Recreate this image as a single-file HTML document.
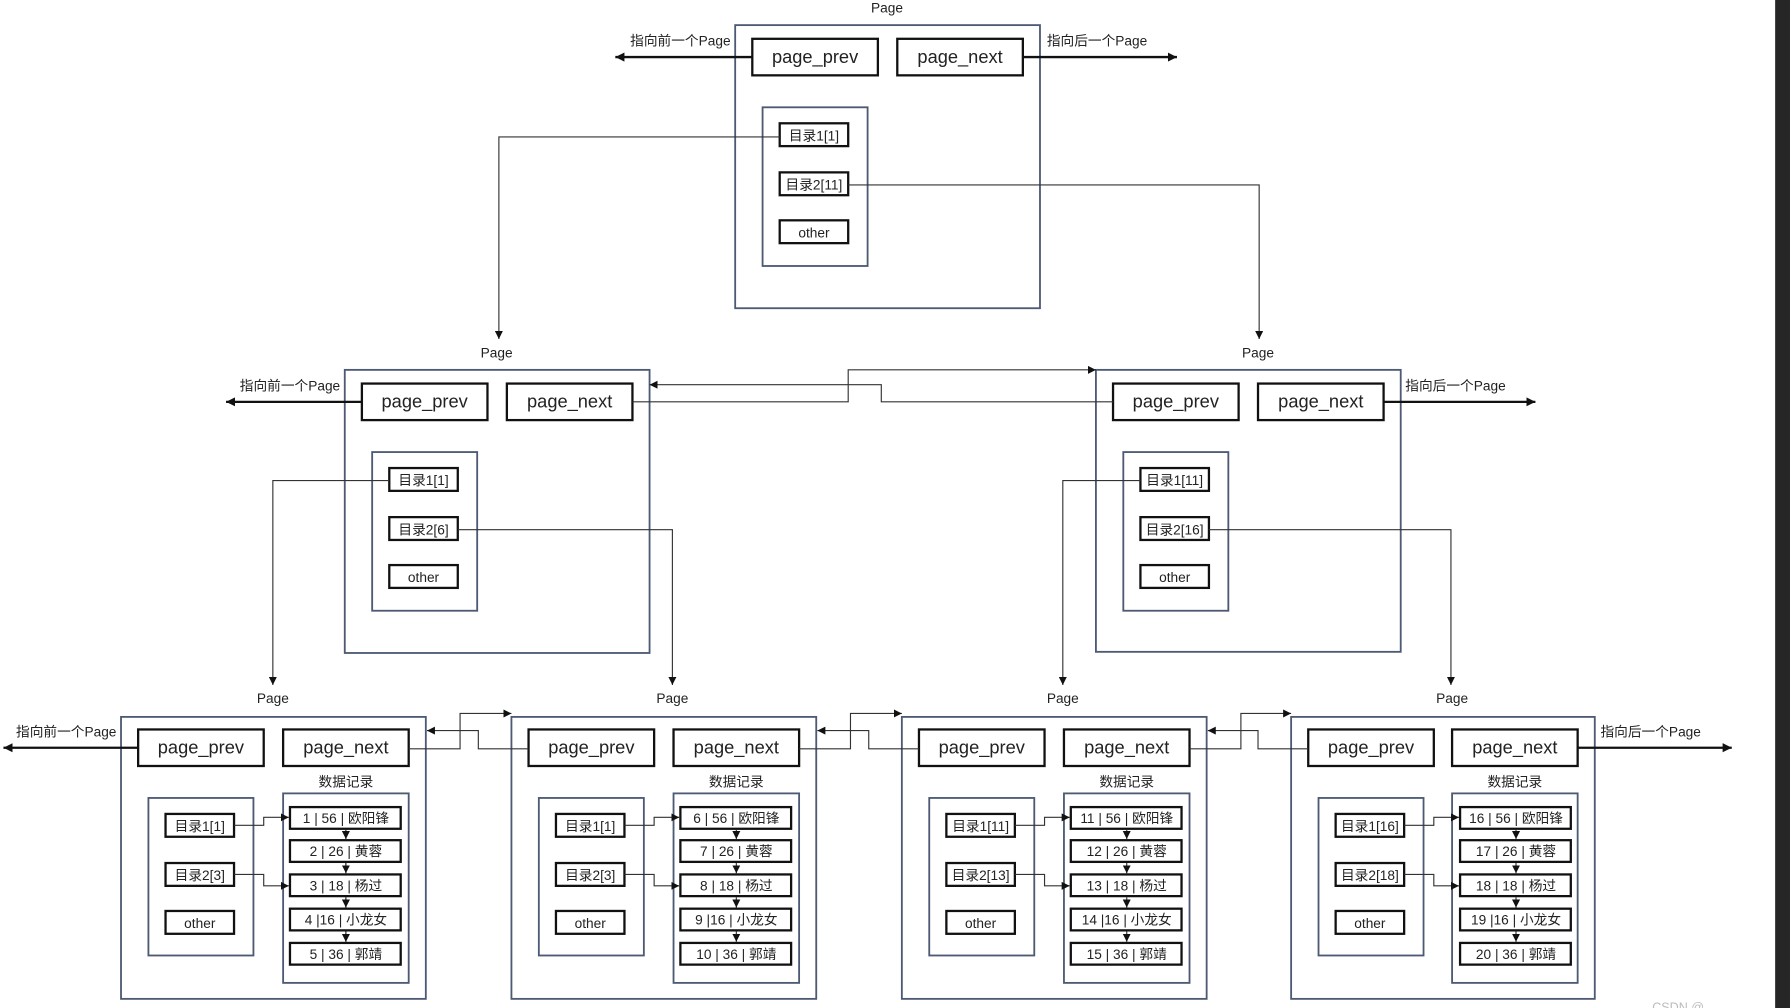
<!DOCTYPE html>
<html><head><meta charset="utf-8"><style>
html,body{margin:0;padding:0;background:#fff;}
svg{display:block}
text{font-family:"Liberation Sans","Noto Sans CJK SC",sans-serif;fill:#222;text-anchor:middle}
.pg{fill:none;stroke:#4d5a74;stroke-width:1.6}
.bx{fill:#fff;stroke:#111;stroke-width:2}
.c{fill:none;stroke:#333;stroke-width:1}
.o{fill:none;stroke:#111;stroke-width:2}
.lb{font-size:12px}
.big{font-size:16px}
.sm{font-size:12px}
</style></head><body>
<svg width="1790" height="1008" viewBox="0 0 1568 883" xmlns="http://www.w3.org/2000/svg">
<defs>
<marker id="a" viewBox="0 0 10 10" refX="10" refY="5" markerWidth="7" markerHeight="7" markerUnits="userSpaceOnUse" orient="auto"><path d="M0 0L10 5L0 10z" fill="#111"/></marker>
<marker id="b" viewBox="0 0 10 10" refX="10" refY="5" markerWidth="8" markerHeight="8" markerUnits="userSpaceOnUse" orient="auto"><path d="M0 0L10 5L0 10z" fill="#111"/></marker>
</defs>
<rect x="1555" y="0" width="13" height="883" fill="#262626"/>

<!-- TOP PAGE -->
<text class="lb" x="777" y="11">Page</text>
<rect class="pg" x="644" y="22" width="267" height="248"/>
<rect class="bx" x="659" y="34" width="110" height="32"/><text class="big" x="714" y="55">page_prev</text>
<rect class="bx" x="786" y="34" width="110" height="32"/><text class="big" x="841" y="55">page_next</text>
<rect class="pg" x="668" y="94" width="92" height="139"/>
<rect class="bx" x="683" y="108" width="60" height="20"/><text class="sm" x="713" y="123">目录1[1]</text>
<rect class="bx" x="683" y="151" width="60" height="20"/><text class="sm" x="713" y="166">目录2[11]</text>
<rect class="bx" x="683" y="193" width="60" height="20"/><text class="sm" x="713" y="208">other</text>
<path class="o" d="M659 50H539" marker-end="url(#b)"/><text class="lb" x="596" y="40">指向前一个Page</text>
<path class="o" d="M896 50H1031" marker-end="url(#b)"/><text class="lb" x="961" y="40">指向后一个Page</text>
<path class="c" d="M683 120H437V297" marker-end="url(#a)"/>
<path class="c" d="M743 162H1103V297" marker-end="url(#a)"/>

<!-- MIDDLE LEFT -->
<text class="lb" x="435" y="313">Page</text>
<rect class="pg" x="302" y="324" width="267" height="248"/>
<rect class="bx" x="317" y="336" width="110" height="32"/><text class="big" x="372" y="357">page_prev</text>
<rect class="bx" x="444" y="336" width="110" height="32"/><text class="big" x="499" y="357">page_next</text>
<rect class="pg" x="326" y="396" width="92" height="139"/>
<rect class="bx" x="341" y="410" width="60" height="20"/><text class="sm" x="371" y="425">目录1[1]</text>
<rect class="bx" x="341" y="453" width="60" height="20"/><text class="sm" x="371" y="468">目录2[6]</text>
<rect class="bx" x="341" y="495" width="60" height="20"/><text class="sm" x="371" y="510">other</text>
<path class="o" d="M317 352H198" marker-end="url(#b)"/><text class="lb" x="254" y="342">指向前一个Page</text>
<path class="c" d="M341 421H239V600" marker-end="url(#a)"/>
<path class="c" d="M401 464H589V600" marker-end="url(#a)"/>

<!-- MIDDLE RIGHT -->
<text class="lb" x="1102" y="313">Page</text>
<rect class="pg" x="960" y="324" width="267" height="247"/>
<rect class="bx" x="975" y="336" width="110" height="32"/><text class="big" x="1030" y="357">page_prev</text>
<rect class="bx" x="1102" y="336" width="110" height="32"/><text class="big" x="1157" y="357">page_next</text>
<rect class="pg" x="984" y="396" width="92" height="139"/>
<rect class="bx" x="999" y="410" width="60" height="20"/><text class="sm" x="1029" y="425">目录1[11]</text>
<rect class="bx" x="999" y="453" width="60" height="20"/><text class="sm" x="1029" y="468">目录2[16]</text>
<rect class="bx" x="999" y="495" width="60" height="20"/><text class="sm" x="1029" y="510">other</text>
<path class="o" d="M1212 352H1345" marker-end="url(#b)"/><text class="lb" x="1275" y="342">指向后一个Page</text>
<path class="c" d="M999 421H931V600" marker-end="url(#a)"/>
<path class="c" d="M1059 464H1271V600" marker-end="url(#a)"/>
<path class="c" d="M554 352H743V324H960" marker-end="url(#a)"/>
<path class="c" d="M975 352H772V337H569" marker-end="url(#a)"/>

<!-- BOTTOM PAGE 1 -->
<g transform="translate(106,0)">
<text class="lb" x="133" y="616">Page</text>
<rect class="pg" x="0" y="628" width="267" height="247"/>
<rect class="bx" x="15" y="639" width="110" height="32"/><text class="big" x="70" y="660">page_prev</text>
<rect class="bx" x="142" y="639" width="110" height="32"/><text class="big" x="197" y="660">page_next</text>
<text class="sm" x="197" y="689">数据记录</text>
<rect class="pg" x="142" y="695" width="110" height="166"/>
<rect class="pg" x="24" y="699" width="92" height="138"/>
<rect class="bx" x="39" y="713" width="60" height="20"/><text class="sm" x="69" y="728">目录1[1]</text>
<rect class="bx" x="39" y="756" width="60" height="20"/><text class="sm" x="69" y="771">目录2[3]</text>
<rect class="bx" x="39" y="798" width="60" height="20"/><text class="sm" x="69" y="813">other</text>
<rect class="bx" x="148" y="707" width="97" height="19"/><text class="sm" x="197" y="721">1 | 56 | 欧阳锋</text>
<rect class="bx" x="148" y="736" width="97" height="19"/><text class="sm" x="197" y="750">2 | 26 | 黄蓉</text>
<rect class="bx" x="148" y="766" width="97" height="19"/><text class="sm" x="197" y="780">3 | 18 | 杨过</text>
<rect class="bx" x="148" y="796" width="97" height="19"/><text class="sm" x="197" y="810">4 |16 | 小龙女</text>
<rect class="bx" x="148" y="826" width="97" height="19"/><text class="sm" x="197" y="840">5 | 36 | 郭靖</text>
<path class="c" d="M197 727V735M197 756V765M197 786V795M197 816V825" marker-end="url(#a)"/>
<path class="c" d="M197 727V735" marker-end="url(#a)"/><path class="c" d="M197 756V765" marker-end="url(#a)"/><path class="c" d="M197 786V795" marker-end="url(#a)"/><path class="c" d="M197 816V825" marker-end="url(#a)"/>
<path class="c" d="M99 723H125V716H147" marker-end="url(#a)"/>
<path class="c" d="M99 766H125V776H147" marker-end="url(#a)"/>
</g>
<path class="o" d="M121 655H3" marker-end="url(#b)"/><text class="lb" x="58" y="645">指向前一个Page</text>

<!-- BOTTOM PAGE 2 -->
<g transform="translate(448,0)">
<text class="lb" x="141" y="616">Page</text>
<rect class="pg" x="0" y="628" width="267" height="247"/>
<rect class="bx" x="15" y="639" width="110" height="32"/><text class="big" x="70" y="660">page_prev</text>
<rect class="bx" x="142" y="639" width="110" height="32"/><text class="big" x="197" y="660">page_next</text>
<text class="sm" x="197" y="689">数据记录</text>
<rect class="pg" x="142" y="695" width="110" height="166"/>
<rect class="pg" x="24" y="699" width="92" height="138"/>
<rect class="bx" x="39" y="713" width="60" height="20"/><text class="sm" x="69" y="728">目录1[1]</text>
<rect class="bx" x="39" y="756" width="60" height="20"/><text class="sm" x="69" y="771">目录2[3]</text>
<rect class="bx" x="39" y="798" width="60" height="20"/><text class="sm" x="69" y="813">other</text>
<rect class="bx" x="148" y="707" width="97" height="19"/><text class="sm" x="197" y="721">6 | 56 | 欧阳锋</text>
<rect class="bx" x="148" y="736" width="97" height="19"/><text class="sm" x="197" y="750">7 | 26 | 黄蓉</text>
<rect class="bx" x="148" y="766" width="97" height="19"/><text class="sm" x="197" y="780">8 | 18 | 杨过</text>
<rect class="bx" x="148" y="796" width="97" height="19"/><text class="sm" x="197" y="810">9 |16 | 小龙女</text>
<rect class="bx" x="148" y="826" width="97" height="19"/><text class="sm" x="197" y="840">10 | 36 | 郭靖</text>
<path class="c" d="M197 727V735" marker-end="url(#a)"/><path class="c" d="M197 756V765" marker-end="url(#a)"/><path class="c" d="M197 786V795" marker-end="url(#a)"/><path class="c" d="M197 816V825" marker-end="url(#a)"/>
<path class="c" d="M99 723H125V716H147" marker-end="url(#a)"/>
<path class="c" d="M99 766H125V776H147" marker-end="url(#a)"/>
</g>

<!-- BOTTOM PAGE 3 -->
<g transform="translate(790,0)">
<text class="lb" x="141" y="616">Page</text>
<rect class="pg" x="0" y="628" width="267" height="247"/>
<rect class="bx" x="15" y="639" width="110" height="32"/><text class="big" x="70" y="660">page_prev</text>
<rect class="bx" x="142" y="639" width="110" height="32"/><text class="big" x="197" y="660">page_next</text>
<text class="sm" x="197" y="689">数据记录</text>
<rect class="pg" x="142" y="695" width="110" height="166"/>
<rect class="pg" x="24" y="699" width="92" height="138"/>
<rect class="bx" x="39" y="713" width="60" height="20"/><text class="sm" x="69" y="728">目录1[11]</text>
<rect class="bx" x="39" y="756" width="60" height="20"/><text class="sm" x="69" y="771">目录2[13]</text>
<rect class="bx" x="39" y="798" width="60" height="20"/><text class="sm" x="69" y="813">other</text>
<rect class="bx" x="148" y="707" width="97" height="19"/><text class="sm" x="197" y="721">11 | 56 | 欧阳锋</text>
<rect class="bx" x="148" y="736" width="97" height="19"/><text class="sm" x="197" y="750">12 | 26 | 黄蓉</text>
<rect class="bx" x="148" y="766" width="97" height="19"/><text class="sm" x="197" y="780">13 | 18 | 杨过</text>
<rect class="bx" x="148" y="796" width="97" height="19"/><text class="sm" x="197" y="810">14 |16 | 小龙女</text>
<rect class="bx" x="148" y="826" width="97" height="19"/><text class="sm" x="197" y="840">15 | 36 | 郭靖</text>
<path class="c" d="M197 727V735" marker-end="url(#a)"/><path class="c" d="M197 756V765" marker-end="url(#a)"/><path class="c" d="M197 786V795" marker-end="url(#a)"/><path class="c" d="M197 816V825" marker-end="url(#a)"/>
<path class="c" d="M99 723H125V716H147" marker-end="url(#a)"/>
<path class="c" d="M99 766H125V776H147" marker-end="url(#a)"/>
</g>

<!-- BOTTOM PAGE 4 -->
<g transform="translate(1131,0)">
<text class="lb" x="141" y="616">Page</text>
<rect class="pg" x="0" y="628" width="266" height="247"/>
<rect class="bx" x="15" y="639" width="110" height="32"/><text class="big" x="70" y="660">page_prev</text>
<rect class="bx" x="141" y="639" width="110" height="32"/><text class="big" x="196" y="660">page_next</text>
<text class="sm" x="196" y="689">数据记录</text>
<rect class="pg" x="141" y="695" width="110" height="166"/>
<rect class="pg" x="24" y="699" width="92" height="138"/>
<rect class="bx" x="39" y="713" width="60" height="20"/><text class="sm" x="69" y="728">目录1[16]</text>
<rect class="bx" x="39" y="756" width="60" height="20"/><text class="sm" x="69" y="771">目录2[18]</text>
<rect class="bx" x="39" y="798" width="60" height="20"/><text class="sm" x="69" y="813">other</text>
<rect class="bx" x="148" y="707" width="97" height="19"/><text class="sm" x="197" y="721">16 | 56 | 欧阳锋</text>
<rect class="bx" x="148" y="736" width="97" height="19"/><text class="sm" x="197" y="750">17 | 26 | 黄蓉</text>
<rect class="bx" x="148" y="766" width="97" height="19"/><text class="sm" x="197" y="780">18 | 18 | 杨过</text>
<rect class="bx" x="148" y="796" width="97" height="19"/><text class="sm" x="197" y="810">19 |16 | 小龙女</text>
<rect class="bx" x="148" y="826" width="97" height="19"/><text class="sm" x="197" y="840">20 | 36 | 郭靖</text>
<path class="c" d="M197 727V735" marker-end="url(#a)"/><path class="c" d="M197 756V765" marker-end="url(#a)"/><path class="c" d="M197 786V795" marker-end="url(#a)"/><path class="c" d="M197 816V825" marker-end="url(#a)"/>
<path class="c" d="M99 723H125V716H147" marker-end="url(#a)"/>
<path class="c" d="M99 766H125V776H147" marker-end="url(#a)"/>
</g>
<path class="o" d="M1382 655H1517" marker-end="url(#b)"/><text class="lb" x="1446" y="645">指向后一个Page</text>

<!-- bottom horizontal links -->
<path class="c" d="M358 656H403V625H448" marker-end="url(#a)"/>
<path class="c" d="M463 656H419V640H374" marker-end="url(#a)"/>
<path class="c" d="M700 656H745V625H790" marker-end="url(#a)"/>
<path class="c" d="M805 656H761V640H716" marker-end="url(#a)"/>
<path class="c" d="M1042 656H1087V625H1131" marker-end="url(#a)"/>
<path class="c" d="M1146 656H1102V640H1058" marker-end="url(#a)"/>

<text x="1470" y="886" style="font-size:11px;fill:#bbb">CSDN @</text>
</svg>
</body></html>
